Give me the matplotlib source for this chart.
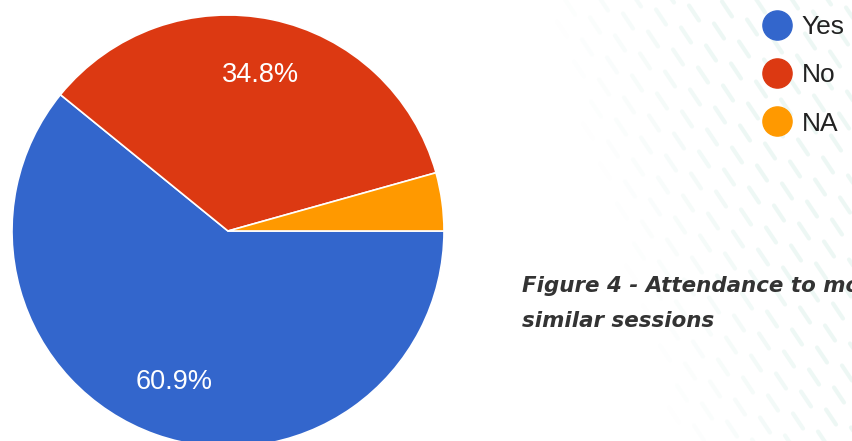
import matplotlib
matplotlib.use('Agg')
import matplotlib.pyplot as plt
from matplotlib.lines import Line2D
import numpy as np

# survey answers (counts out of 46 responses)
answers = ['Yes', 'No', 'NA']
counts = [28, 16, 2]
colors = ['#3366cc', '#dc3912', '#ff9900']
caption_lines = ['Figure 4 - Attendance to more', 'similar sessions']

W, H = 852, 441
fig = plt.figure(figsize=(W / 100, H / 100), dpi=100)
fig.patch.set_facecolor('white')

# faint leaf pattern in the background (pixel coordinates)
bg = fig.add_axes([0, 0, 1, 1], zorder=0)
bg.set_xlim(0, W)
bg.set_ylim(H, 0)
bg.axis('off')
for i in range(-20, 40):
    for j in range(-20, 40):
        x = 570 + 25 * i - 8 * j
        y = 7 + 18 * i + 22 * j
        if x < 450 or x > W + 20 or y < -20 or y > H + 20:
            continue
        k = np.clip((x - 545 - 0.3 * y) / 160, 0, 1)
        if k <= 0:
            continue
        bg.plot([x - 5, x + 5], [y - 7.5, y + 7.5], color='#dcf1eb',
                alpha=0.5 * k, lw=3.0, solid_capstyle='round')

# pie: centre (228, 231) px, radius 216 px
r = 216
ax = fig.add_axes([(228 - r) / W, (H - 231 - r) / H, 2 * r / W, 2 * r / H],
                  zorder=1)
ax.set_facecolor('none')


def pct(p):
    return '%.1f%%' % p if p > 5 else ''


wedges, texts, autotexts = ax.pie(
    counts, colors=colors, startangle=0, counterclock=False,
    autopct=pct, pctdistance=0.74, radius=1,
    wedgeprops=dict(edgecolor='white', linewidth=1.2),
    textprops=dict(color='white', fontsize=19.5, family='Liberation Sans'))
ax.set_xlim(-1, 1)
ax.set_ylim(-1, 1)
ax.set_aspect('equal')

# legend with round markers
handles = [Line2D([], [], marker='o', linestyle='none', markersize=21,
                  markerfacecolor=c, markeredgecolor=c) for c in colors]
fig.legend(handles, answers, loc='upper left',
           bbox_to_anchor=(761 / W, 1 - 15 / H), frameon=False,
           prop=dict(family='Liberation Sans', size=19),
           labelcolor='#222222', handlelength=1.2, handletextpad=0.35,
           labelspacing=0.92, borderpad=0, borderaxespad=0)

for line, ybase in zip(caption_lines, [292, 327]):
    fig.text(522 / W, 1 - ybase / H, line, fontsize=15.4, fontweight='bold',
             style='italic', family='DejaVu Sans', color='#333333',
             va='baseline', ha='left')

fig.savefig('out.png', dpi=100)
